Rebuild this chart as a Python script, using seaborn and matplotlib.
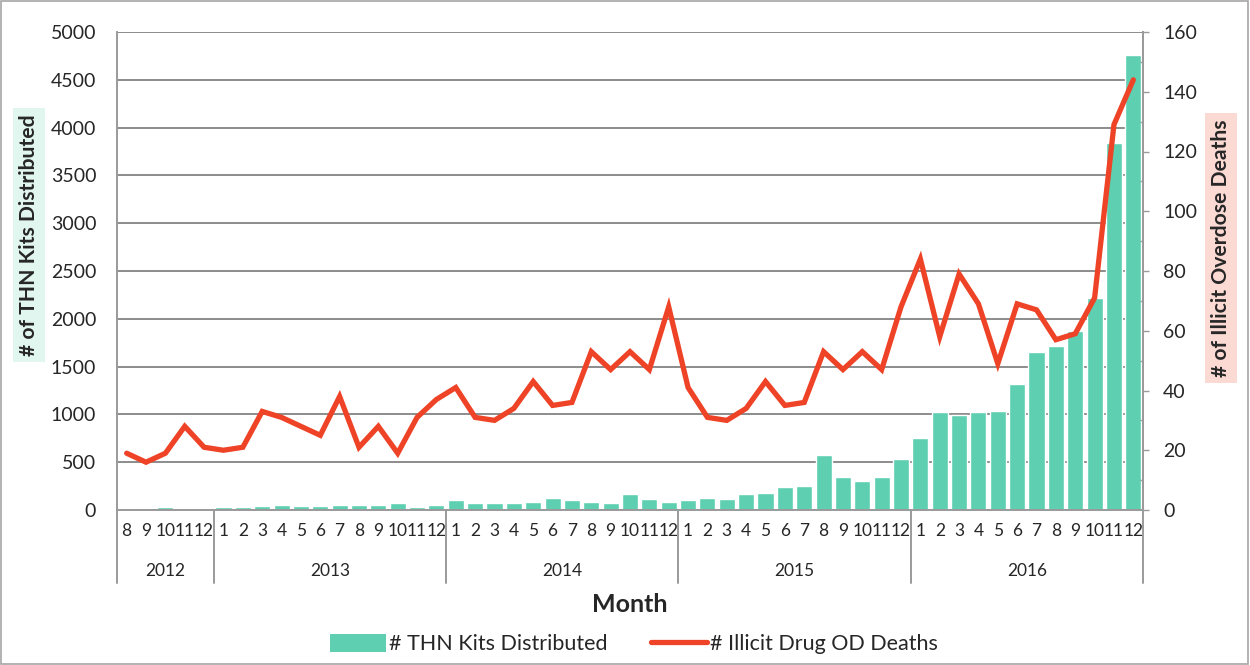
import numpy as np
import pandas as pd
import matplotlib
matplotlib.use("Agg")
import matplotlib.pyplot as plt
import matplotlib.transforms as mtransforms
from matplotlib.patches import Patch, Rectangle
from matplotlib.lines import Line2D
import seaborn as sns

# ---- data -------------------------------------------------------------
years = ["2012", "2013", "2014", "2015", "2016"]
months_per_year = [5, 12, 12, 12, 12]
month_labels = ["8", "9", "10", "11", "12"] + [str(m) for m in range(1, 13)] * 4

thn_kits = [10, 5, 31, 21, 21,
            31, 31, 42, 52, 42, 38, 52, 48, 52, 77, 31, 52,
            100, 73, 73, 70, 84, 126, 105, 80, 73, 167, 112, 84,
            105, 129, 119, 167, 178, 240, 247, 572, 342, 303, 342, 537,
            755, 1025, 994, 1028, 1035, 1318, 1653, 1716, 1869, 2221, 3839, 4756]

od_deaths = [19, 16, 19, 28, 21,
             20, 21, 33, 31, 28, 25, 38, 21, 28, 19, 31, 37,
             41, 31, 30, 34, 43, 35, 36, 53, 47, 53, 47, 68,
             41, 31, 30, 34, 43, 35, 36, 53, 47, 53, 47, 68,
             84, 58, 79, 69, 49, 69, 67, 57, 59, 71, 129, 144]

left_ticks = [0, 500, 1000, 1500, 2000, 2500, 3000, 3500, 4000, 4500, 5000]
right_ticks = [0, 20, 40, 60, 80, 100, 120, 140, 160]

bar_label = "# THN Kits Distributed"
line_label = "# Illicit Drug OD Deaths"

# ---- styling ----------------------------------------------------------
sns.set_style("white")
plt.rcParams["font.family"] = ["Lato", "DejaVu Sans"]

TEAL = "#5ECFB1"
RED = "#EE4326"
GRID = "#8C8C8C"
AXIS = "#9A9A9A"
TICK_FS = 14
MONTH_FS = 12.5

n = len(thn_kits)
pos = np.arange(n)
df = pd.DataFrame({"pos": pos, "kits": thn_kits, "deaths": od_deaths})

W, H = 1250, 665
fig = plt.figure(figsize=(W / 100, H / 100), dpi=100)
x0, x1, y_top, y_bot = 117, 1143, 32, 510
ax = fig.add_axes([x0 / W, (H - y_bot) / H, (x1 - x0) / W, (y_bot - y_top) / H])

sns.barplot(data=df, x="pos", y="kits", color=TEAL, width=0.83,
            saturation=1, ax=ax, native_scale=True, zorder=2)
ax.set_xlim(-0.5, n - 0.5)
ax.set_ylim(0, 5000)
ax.set_yticks(left_ticks)
ax.set_yticklabels([str(t) for t in left_ticks], fontsize=TICK_FS)
ax.yaxis.grid(True, color=GRID, lw=1.4, zorder=0)
ax.set_axisbelow(True)
ax.tick_params(axis="y", length=0, pad=15)

# month labels at bar centres, short marks between months
ax.set_xticks(pos)
ax.set_xticklabels(month_labels, fontsize=MONTH_FS)
ax.set_xticks(np.arange(-0.5, n, 1.0), minor=True)
ax.tick_params(axis="x", which="major", length=0, pad=9)
ax.tick_params(axis="x", which="minor", length=4, width=1, color=AXIS, direction="out")
ax.set_xlabel("")
ax.set_ylabel("")

ax.spines["top"].set_visible(False)
for side in ["left", "bottom", "right"]:
    ax.spines[side].set_color(AXIS)
    ax.spines[side].set_linewidth(1.4)

# death counts on the secondary axis
ax2 = ax.twinx()
sns.lineplot(x=pos, y=od_deaths, color=RED, lw=3.8, ax=ax2,
             solid_joinstyle="miter", solid_capstyle="round")
ax2.set_ylim(0, 160)
ax2.set_yticks(right_ticks)
ax2.set_yticklabels([str(t) for t in right_ticks], fontsize=TICK_FS)
ax2.set_yticks(np.arange(10, 160, 20), minor=True)
ax2.tick_params(axis="y", which="major", length=4.5, width=1, color=AXIS, pad=10)
ax2.tick_params(axis="y", which="minor", length=2, width=1, color=AXIS, direction="in")
ax2.set_ylabel("")
for side in ["top", "left", "bottom"]:
    ax2.spines[side].set_visible(False)
ax2.spines["right"].set_color(AXIS)
ax2.spines["right"].set_linewidth(1.4)
ax2.grid(False)

# year groups below the month row
trans = mtransforms.blended_transform_factory(ax.transData, ax.transAxes)
sep_depth = -(583 - y_bot) / (y_bot - y_top)
year_y = -(571 - y_bot) / (y_bot - y_top)
edges = np.concatenate([[0], np.cumsum(months_per_year)]) - 0.5
for e in edges:
    ax.plot([e, e], [0, sep_depth], transform=trans, color=AXIS, lw=1.4,
            clip_on=False, zorder=5)
for yr, a, b in zip(years, edges[:-1], edges[1:]):
    ax.text((a + b) / 2, year_y, yr, transform=trans, ha="center", va="center",
            fontsize=MONTH_FS)

# axis titles
fig.text(630 / W, 1 - 604 / H, "Month", ha="center", va="center",
         fontsize=18, fontweight="bold")
fig.text(29 / W, 1 - 235 / H, "# of THN Kits Distributed", rotation=90,
         ha="center", va="center", fontsize=15.2, fontweight="bold",
         bbox=dict(boxstyle="square,pad=0.3", facecolor="#E2F6F0", edgecolor="none"))
fig.text(1221 / W, 1 - 248 / H, "# of Illicit Overdose Deaths", rotation=90,
         ha="center", va="center", fontsize=15.2, fontweight="bold",
         bbox=dict(boxstyle="square,pad=0.3", facecolor="#FCDAD4", edgecolor="none"))

# legend
handles = [Patch(facecolor=TEAL, edgecolor="none"),
           Line2D([0], [0], color=RED, lw=3.8, solid_capstyle="round")]
fig.legend(handles, [bar_label, line_label], loc="center",
           bbox_to_anchor=(634 / W, 1 - 644 / H), ncol=2, frameon=False,
           fontsize=15.5, handlelength=2.6, handleheight=0.9, handletextpad=0.15,
           columnspacing=2.0)

# outer chart border
fig.patches.append(Rectangle((0.001, 0.002), 0.997, 0.996, transform=fig.transFigure,
                             fill=False, edgecolor="#A6A6A6", lw=1.2))

fig.savefig("out.png", dpi=100)
